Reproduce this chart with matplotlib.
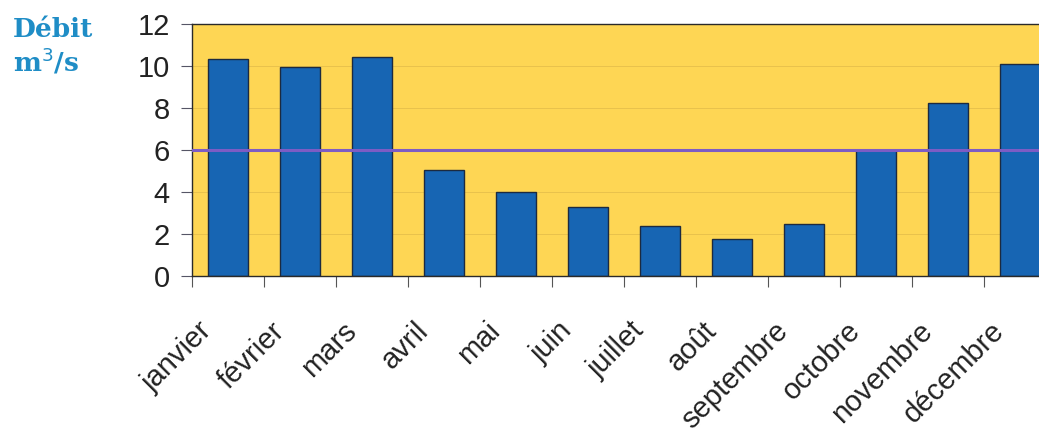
import matplotlib.pyplot as plt
import matplotlib.transforms as mtransforms
import numpy as np

# Débit moyen mensuel (m3/s)
mois = ['janvier', 'février', 'mars', 'avril', 'mai', 'juin', 'juillet',
        'août', 'septembre', 'octobre', 'novembre', 'décembre']
debit = [10.35, 9.95, 10.45, 5.05, 4.0, 3.3, 2.4, 1.78, 2.5, 6.0, 8.25, 10.1]
module = 6.0
yticks = [0, 2, 4, 6, 8, 10, 12]

plt.rcParams['font.family'] = ['Liberation Sans', 'DejaVu Sans']

fig = plt.figure(figsize=(10.39, 4.41), dpi=100)
# the plot area runs a little past the right edge of the figure
ax = fig.add_axes([192 / 1039, 1 - 276 / 441, 864 / 1039, 252 / 441])

x = np.arange(len(mois))
ax.set_facecolor('#fed654')
for y in yticks[1:]:
    ax.axhline(y, color='#e9c24c', lw=0.7, zorder=1)
ax.bar(x, debit, width=0.56, color='#1765b3', edgecolor='#1c2a40',
       linewidth=1.0, zorder=2)
ax.axhline(module, color='#7d5cc4', lw=2.2, zorder=3)

ax.set_xlim(-0.5, len(mois) - 0.5)
ax.set_ylim(0, 12)
ax.set_yticks(yticks)
ax.set_yticklabels([str(v) for v in yticks], fontsize=21, color='#222222')
ax.tick_params(axis='y', length=8, width=0.8, color='#555566', pad=8)

# ticks between months, labels on month centres
ax.set_xticks(np.arange(len(mois) + 1) - 0.5)
ax.set_xticklabels([])
ax.set_xticks(x, minor=True)
ax.set_xticklabels(mois, minor=True, rotation=45, ha='right', va='center',
                   rotation_mode='anchor', fontsize=21, color='#222222')
ax.tick_params(axis='x', which='major', direction='out', length=8,
               width=0.8, color='#555555')
ax.tick_params(axis='x', which='minor', length=0, pad=22)

# push the month names down and to the left along their slant
shift = mtransforms.ScaledTranslation(-20 / 100, -20 / 100, fig.dpi_scale_trans)
for lbl in ax.get_xticklabels(minor=True):
    lbl.set_transform(lbl.get_transform() + shift)

for side in ['left', 'top', 'bottom']:
    ax.spines[side].set_color('#2a2a2a')
    ax.spines[side].set_linewidth(1.0)
ax.spines['right'].set_visible(False)

fig.text(13 / 1039, 1 - 37 / 441, 'Débit', fontsize=19, fontweight='bold',
         family='DejaVu Serif', color='#1f8dc6', va='baseline')
fig.text(13 / 1039, 1 - 72 / 441, r'm$^3$/s', fontsize=19, fontweight='bold',
         family='DejaVu Serif', color='#1f8dc6', va='baseline')

plt.savefig('out.png', dpi=100)
